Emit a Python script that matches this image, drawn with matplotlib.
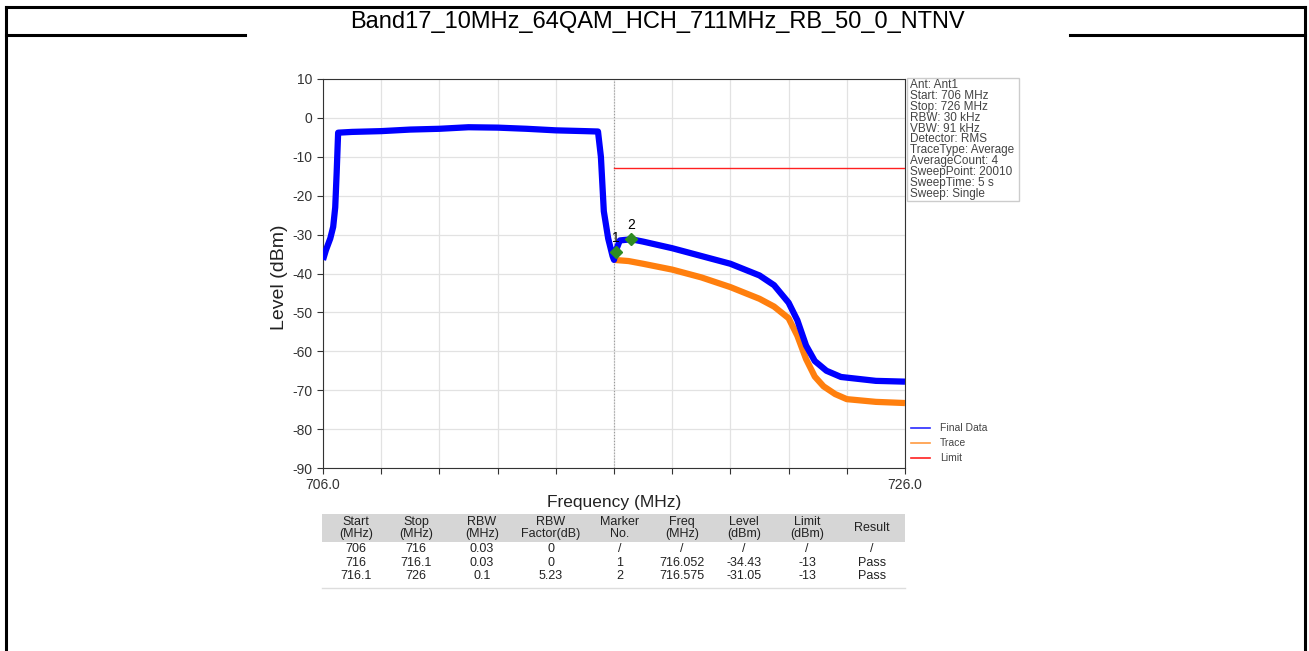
"""
    Gráfico de emisión fuera de banda (Band17)
"""
import matplotlib.pyplot as plt
from matplotlib.lines import Line2D
from matplotlib.patches import Rectangle

plt.rcParams['font.family'] = ['Liberation Sans', 'DejaVu Sans']
plt.rcParams['axes.unicode_minus'] = False

# Datos
titulo = 'Band17_10MHz_64QAM_HCH_711MHz_RB_50_0_NTNV'

final_f = [706.0, 706.1, 706.25, 706.35, 706.42, 706.47, 706.52, 707.0, 708.0, 709.0,
           710.0, 711.0, 712.0, 713.0, 714.0, 715.0, 715.45, 715.55, 715.65, 715.8,
           715.95, 716.0, 716.05, 716.2, 716.6, 717.0, 718.0, 719.0, 720.0, 721.0,
           721.5, 722.0, 722.3, 722.6, 722.9, 723.3, 723.8, 725.0, 726.0]
final_l = [-36.5, -34.0, -31.0, -28.0, -23.0, -14.0, -3.8, -3.6, -3.4, -3.0,
           -2.8, -2.4, -2.5, -2.8, -3.2, -3.4, -3.5, -10.0, -24.0, -31.0,
           -35.5, -36.5, -34.4, -31.5, -31.2, -31.8, -33.5, -35.5, -37.5, -40.5,
           -43.0, -47.5, -52.0, -58.5, -62.5, -65.0, -66.6, -67.6, -67.8]

trace_f = [716.0, 716.5, 717.0, 718.0, 719.0, 720.0, 721.0, 721.5, 722.0, 722.3,
           722.6, 722.9, 723.2, 723.6, 724.0, 725.0, 726.0]
trace_l = [-36.5, -36.8, -37.5, -39.0, -41.0, -43.5, -46.5, -48.5, -51.5, -56.0,
           -62.0, -66.5, -69.0, -71.0, -72.3, -73.0, -73.3]

limit_f = [716.0, 726.0]
limit_l = [-13.0, -13.0]

marker_no = ['1', '2']
marker_f = [716.052, 716.575]
marker_l = [-34.43, -31.05]

info = ['Ant: Ant1', 'Start: 706 MHz', 'Stop: 726 MHz', 'RBW: 30 kHz', 'VBW: 91 kHz',
        'Detector: RMS', 'TraceType: Average', 'AverageCount: 4', 'SweepPoint: 20010',
        'SweepTime: 5 s', 'Sweep: Single']

col_head = ['Start\n(MHz)', 'Stop\n(MHz)', 'RBW\n(MHz)', 'RBW\nFactor(dB)', 'Marker\nNo.',
            'Freq\n(MHz)', 'Level\n(dBm)', 'Limit\n(dBm)', 'Result']
filas = [['706', '716', '0.03', '0', '/', '/', '/', '/', '/'],
         ['716', '716.1', '0.03', '0', '1', '716.052', '-34.43', '-13', 'Pass'],
         ['716.1', '726', '0.1', '5.23', '2', '716.575', '-31.05', '-13', 'Pass']]

W, H = 1309, 651


def fx(px):
    return px / W


def fy(py):
    return 1 - py / H


fig = plt.figure(figsize=(W / 100, H / 100), dpi=100)

# Marco exterior y fila de título
marco = dict(color='black', linewidth=2.2, transform=fig.transFigure)
fig.add_artist(Line2D([fx(6), fx(1305)], [fy(7), fy(7)], **marco))
fig.add_artist(Line2D([fx(6), fx(6)], [fy(7), fy(651)], **marco))
fig.add_artist(Line2D([fx(1305), fx(1305)], [fy(7), fy(651)], **marco))
fig.add_artist(Line2D([fx(6), fx(245)], [fy(35), fy(35)], **marco))
fig.add_artist(Line2D([fx(1070), fx(1305)], [fy(35), fy(35)], **marco))
fig.text(fx(657), fy(22), titulo, ha='center', va='center', fontsize=17)

# Área del gráfico
ax = fig.add_axes([fx(323), fy(468), fx(905) - fx(323), fy(79) - fy(468)])
ax.plot(trace_f, trace_l, color='#ff7f0e', linewidth=4.5, solid_joinstyle='round',
        solid_capstyle='butt', label='Trace', zorder=3)
ax.plot(final_f, final_l, color='#0000ff', linewidth=4.5, solid_joinstyle='round',
        solid_capstyle='butt', label='Final Data', zorder=4)
ax.plot(limit_f, limit_l, color='#ff2020', linewidth=1.0, label='Limit', zorder=3)
ax.axvline(716.0, color='#999999', linewidth=0.8, linestyle=':', zorder=2)
ax.plot(marker_f, marker_l, linestyle='none', marker='D', markersize=6,
        color='#2e8b22', zorder=6)
for n, f, l in zip(marker_no, marker_f, marker_l):
    ax.annotate(n, (f, l), xytext=(0, 5), textcoords='offset points',
                ha='center', va='bottom', fontsize=10, zorder=7)

ax.set_xlim(706, 726)
ax.set_ylim(-90, 10)
ax.set_xticks(range(706, 727, 2))
ax.set_xticklabels(['706.0'] + [''] * 9 + ['726.0'])
ax.set_yticks(range(-90, 11, 10))
ax.tick_params(labelsize=10, length=4, color='#333333', labelcolor='#333333')
ax.grid(True, color='#e2e2e2', linewidth=0.9)
for s in ax.spines.values():
    s.set_color('#333333')
ax.set_ylabel('Level (dBm)', fontsize=14, color='#222222')
ax.yaxis.set_label_coords(-0.06, 0.49)
ax.set_xlabel('Frequency (MHz)', fontsize=12.5, color='#222222')
ax.xaxis.label.set_va('center')
ax.xaxis.set_label_coords(0.5, -0.088)

# Caja de información
fig.add_artist(Rectangle((fx(907), fy(201)), fx(1019) - fx(907), fy(78) - fy(201),
                         transform=fig.transFigure, fill=False, edgecolor='#cccccc',
                         linewidth=1.0))
for i, t in enumerate(info):
    fig.text(fx(910), fy(85 + 10.9 * i), t, ha='left', va='center', fontsize=8.5,
             color='#444444')

# Leyenda
orden = ['Final Data', 'Trace', 'Limit']
colores = {'Final Data': '#2a2aff', 'Trace': '#ff9a40', 'Limit': '#ff2020'}
for i, nombre in enumerate(orden):
    y = fy(428 + 15 * i)
    fig.add_artist(Line2D([fx(911), fx(930)], [y, y], color=colores[nombre],
                          linewidth=1.2, transform=fig.transFigure))
    fig.text(fx(940), y, nombre, ha='left', va='center', fontsize=7.5, color='#444444')

# Tabla de resultados
centros = [356, 416, 482, 551, 620, 682, 744, 807, 872]
fig.add_artist(Rectangle((fx(322), fy(542)), fx(905) - fx(322), fy(514) - fy(542),
                         transform=fig.transFigure, color='#d6d6d6', linewidth=0))
for c, h in zip(centros, col_head):
    fig.text(fx(c), fy(528), h, ha='center', va='center', fontsize=9,
             color='#222222', linespacing=0.9)
for j, fila in enumerate(filas):
    for c, v in zip(centros, fila):
        fig.text(fx(c), fy(549 + 13.5 * j), v, ha='center', va='center', fontsize=9,
                 color='#222222')
fig.add_artist(Line2D([fx(322), fx(905)], [fy(588), fy(588)], color='#dddddd',
                      linewidth=1.0, transform=fig.transFigure))

fig.savefig('out.png', dpi=100)
